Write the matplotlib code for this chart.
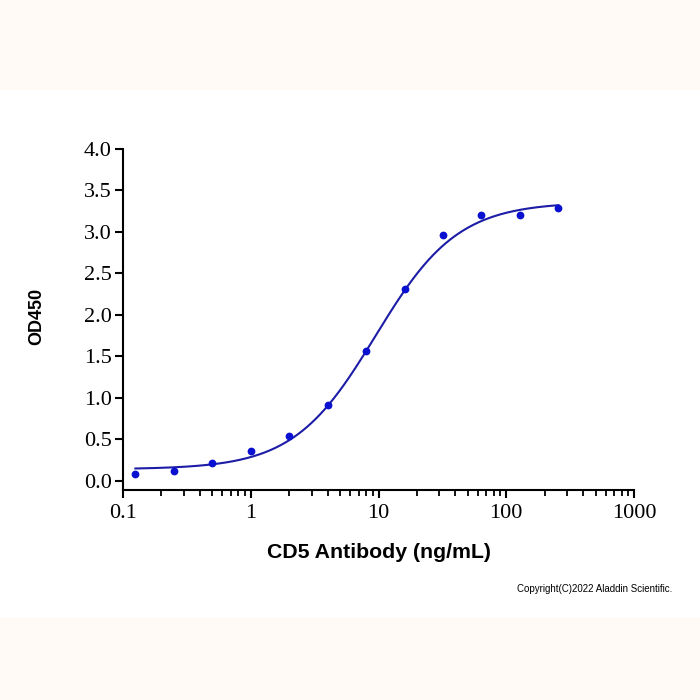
import numpy as np
import matplotlib
matplotlib.use("Agg")
import matplotlib.pyplot as plt
from matplotlib.patches import Rectangle
from matplotlib.ticker import LogLocator, FixedLocator, FuncFormatter, NullFormatter

# Data
conc = [0.125, 0.25, 0.5, 1, 2, 4, 8, 16, 32, 64, 128, 256]
od450 = [0.08, 0.12, 0.21, 0.36, 0.54, 0.91, 1.56, 2.31, 2.96, 3.21, 3.21, 3.29]
# 4PL fit parameters (bottom, top, EC50, hill)
fit_bottom = 0.14
fit_top = 3.36
fit_ec50 = 9.5
fit_hill = 1.35
x_ticks = [0.1, 1, 10, 100, 1000]
x_tick_labels = ["0.1", "1", "10", "100", "1000"]
y_ticks = [0.0, 0.5, 1.0, 1.5, 2.0, 2.5, 3.0, 3.5, 4.0]
x_label = "CD5 Antibody (ng/mL)"
y_label = "OD450"
credit = "Copyright(C)2022 Aladdin Scientific."

fig = plt.figure(figsize=(7, 7), dpi=100)
fig.patch.set_facecolor("white")
# background bands
fig.patches.append(Rectangle((0, 1 - 90 / 700), 1, 90 / 700, transform=fig.transFigure,
                             facecolor="#fffaf6", edgecolor="none", zorder=-10))
fig.patches.append(Rectangle((0, 0), 1, 82 / 700, transform=fig.transFigure,
                             facecolor="#fffaf6", edgecolor="none", zorder=-10))

ax = fig.add_axes([123 / 700, 1 - 490 / 700, (634 - 123) / 700, (490 - 149) / 700])
ax.set_facecolor("none")

xs = np.logspace(np.log10(conc[0]), np.log10(conc[-1]), 400)
ys = fit_bottom + (fit_top - fit_bottom) / (1 + (fit_ec50 / xs) ** fit_hill)
ax.plot(xs, ys, color="#1c1ca6", lw=1.5, zorder=2)
ax.plot(conc, od450, "o", color="#0a10d0", ms=5.6, mec="none", zorder=3)

ax.set_xscale("log")
ax.set_xlim(0.1, 1000)
ax.set_ylim(-0.11, 4.0)

ax.xaxis.set_major_locator(FixedLocator(x_ticks))
ax.xaxis.set_major_formatter(FuncFormatter(lambda v, p: x_tick_labels[x_ticks.index(v)] if v in x_ticks else ""))
ax.xaxis.set_minor_locator(LogLocator(base=10, subs=np.arange(2, 10)))
ax.xaxis.set_minor_formatter(NullFormatter())
ax.yaxis.set_major_locator(FixedLocator(y_ticks))
ax.set_yticklabels([f"{v:.1f}" for v in y_ticks])

for s in ["top", "right"]:
    ax.spines[s].set_visible(False)
for s in ["left", "bottom"]:
    ax.spines[s].set_linewidth(1.5)
    ax.spines[s].set_color("black")

ax.tick_params(axis="both", which="major", direction="out", length=6, width=1.5,
               labelsize=16, pad=2)
ax.tick_params(axis="x", which="minor", direction="out", length=4, width=1.3)
ax.tick_params(axis="x", which="major", pad=4)
for lab in ax.get_xticklabels() + ax.get_yticklabels():
    lab.set_fontfamily("Liberation Serif")

fig.text(379 / 700, 1 - 552 / 700, x_label, ha="center", va="center", fontsize=15.3,
         fontweight="bold", fontfamily="Liberation Sans")
fig.text(37 / 700, 1 - 316 / 700, y_label, ha="center", va="center", rotation=90,
         fontsize=13, fontweight="bold", fontfamily="Liberation Sans")

fig.text(672 / 700, 1 - 589 / 700, credit, ha="right", va="center", fontsize=7,
         fontfamily="Liberation Sans", color="black")

fig.savefig("out.png", dpi=100)
